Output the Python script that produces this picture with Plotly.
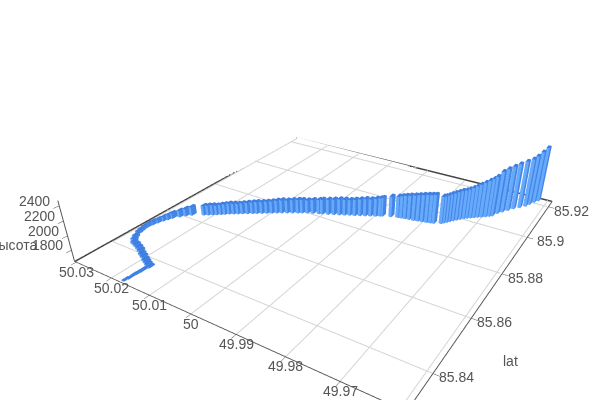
import plotly.graph_objects as go

title_x = "lat"
title_z = "высота"

lat = [85.8301,85.8312,85.8325,85.8337,85.8347,85.8358,85.8371,85.8376,85.8381,85.8386,85.8394,85.8400,85.8409,85.8416,85.8422,85.8427,85.8438,85.8450,85.8469,85.8480,85.8495,85.8510,85.8525,85.8540,85.8556,85.8568,85.8580,85.8597,85.8610,85.8622,
85.8641,85.8648,85.8655,85.8662,85.8669,85.8676,85.8684,85.8691,85.8698,85.8705,85.8713,85.8721,85.8728,85.8736,85.8744,85.8752,85.8760,85.8768,85.8776,85.8784,85.8792,85.8799,85.8806,85.8813,85.8820,85.8824,85.8831,85.8838,85.8845,85.8852,85.8859,85.8865,85.8872,85.8879,85.8886,85.8893,85.8900,85.8903,
85.8913,
85.8920,85.8922,85.8924,85.8926,85.8928,85.8931,85.8934,85.8937,85.8940,85.8943,
85.8953,85.8959,85.8967,85.8975,85.8984,85.8993,85.9002,85.9011,85.9018,85.9025,85.9032,85.9039,85.9046,85.9054,85.9062,85.9069,
85.9090,85.9106,85.9123,85.9141,85.9158,85.9175,85.9192,85.9211,85.9228]
lon = [50.0174,50.0172,50.0172,50.0171,50.0170,50.0170,50.0167,50.0177,50.0185,50.0193,50.0204,50.0214,50.0225,50.0236,50.0248,50.0259,50.0268,50.0274,50.0281,50.0283,50.0285,50.0285,50.0283,50.0280,50.0276,50.0272,50.0268,50.0259,50.0251,50.0242,
50.0220,50.0212,50.0204,50.0197,50.0190,50.0183,50.0176,50.0168,50.0160,50.0152,50.0143,50.0134,50.0126,50.0117,50.0108,50.0099,50.0090,50.0081,50.0071,50.0061,50.0051,50.0043,50.0033,50.0022,50.0010,50.0003,49.9991,49.9980,49.9969,49.9959,49.9949,49.9939,49.9929,49.9919,49.9909,49.9899,49.9891,49.9887,
49.9870,
49.9856,49.9848,49.9840,49.9831,49.9821,49.9812,49.9803,49.9794,49.9786,49.9779,
49.9765,49.9761,49.9757,49.9753,49.9748,49.9743,49.9738,49.9732,49.9727,49.9721,49.9715,49.9709,49.9702,49.9695,49.9689,49.9684,
49.9678,49.9671,49.9663,49.9655,49.9645,49.9636,49.9631,49.9625,49.9619]
alt = [1650,1652,1655,1656,1658,1660,1662,1660,1662,1664,1666,1668,1670,1672,1674,1676,1680,1684,1686,1688,1692,1695,1698,1700,1708,1715,1725,1740,1755,1770,
1785,1790,1792,1786,1795,1800,1804,1802,1798,1806,1812,1816,1820,1818,1822,1826,1835,1840,1838,1844,1847,1844,1840,1850,1858,1864,1870,1877,1884,1881,1878,1887,1894,1902,1900,1910,1917,1922,
1950,
1960,1975,1990,2005,2020,2032,2045,2055,2062,2068,
2045,2045,2048,2055,2060,2066,2072,2072,2080,2095,2115,2135,2160,2185,2205,2230,
2270,2290,2305,2320,2340,2355,2375,2410,2450]

lat_ticks = [85.84,85.86,85.88,85.90,85.92]
lon_ticks = [49.96,49.97,49.98,49.99,50.0,50.01,50.02,50.03]
alt_ticks = [1800,2000,2200,2400]
lat_labels = ["85.84","85.86","85.88","85.9","85.92"]
lon_labels = ["49.96","49.97","49.98","49.99","50","50.01","50.02","50.03"]
alt_labels = ["1800","2000","2200","2400"]

lat_range = [85.8286,85.924]
lon_range = [49.959,50.0305]
alt_range = [1640,2465]
half_lat, half_lon = 0.001, 0.00035
C_A, C_B, C_T = "#66aafc", "#4585e6", "#3f7de0"
TXT = "#555555"
INSET_H, INSET_Z = 0.0001, 0.5

vx,vy,vz,I,J,K,fc = [],[],[],[],[],[],[]
for a,o,h in zip(lat,lon,alt):
    n=len(vx)
    for zz in (alt_range[0]+INSET_Z,h):
        for dx,dy in ((-1,-1),(1,-1),(1,1),(-1,1)):
            vx.append(a+dx*half_lat); vy.append(o+dy*half_lon); vz.append(zz)
    for (p,q,r,col) in [(0,1,5,C_B),(0,5,4,C_B),(3,0,4,C_A),(3,4,7,C_A),(1,2,6,C_A),(1,6,5,C_A),(2,3,7,C_B),(2,7,6,C_B),(4,5,6,C_T),(4,6,7,C_T)]:
        I.append(n+p);J.append(n+q);K.append(n+r);fc.append(col)

fig=go.Figure()
zf=alt_range[0]+INSET_Z
x0,x1=lat_range[0]+INSET_H,lat_range[1]-INSET_H
y0,y1=lon_range[0]+INSET_H,lon_range[1]-INSET_H
gx,gy,gz=[],[],[]
for t in lat_ticks:
    gx+=[t,t,None];gy+=[y0,y1,None];gz+=[zf,zf,None]
for t in lon_ticks:
    if lon_range[0]<t<lon_range[1]:
        gx+=[x0,x1,None];gy+=[t,t,None];gz+=[zf,zf,None]
fig.add_trace(go.Scatter3d(x=gx,y=gy,z=gz,mode="lines",line=dict(color="#d4d4d4",width=2),hoverinfo="skip",showlegend=False))
fig.add_trace(go.Scatter3d(x=[x0,x1,x1],y=[y1,y1,y0],z=[zf]*3,mode="lines",line=dict(color="#444444",width=3),hoverinfo="skip",showlegend=False))
fig.add_trace(go.Mesh3d(x=vx,y=vy,z=vz,i=I,j=J,k=K,facecolor=fc,flatshading=True,
    lighting=dict(ambient=1,diffuse=0,specular=0,roughness=1,fresnel=0),hoverinfo="skip"))

def note(x,y,z,text,dx,dy):
    return dict(x=x,y=y,z=z,text=text,showarrow=False,xshift=dx,yshift=dy,font=dict(family="Liberation Sans",size=14,color=TXT))
notes=[]
for t,s in zip(lat_ticks,lat_labels):
    notes.append(note(t,y0,zf,s,24,-4))
for t,s in zip(lon_ticks,lon_labels):
    if lon_range[0]<t<lon_range[1]:
        notes.append(note(x0,t,zf,s,0,-10))
for t,s in zip(alt_ticks,alt_labels):
    notes.append(note(x0,y1,t,s,-25,5))
notes.append(note(x0,y1,alt_ticks[0],title_z,-58,5))
notes.append(note(85.85,y0,zf,title_x,58,-17))

ax=dict(showgrid=False,showbackground=False,showline=True,linecolor="#555555",linewidth=2,zeroline=False,showspikes=False,ticks="outside",ticklen=5,tickcolor="#555555",showticklabels=False,title=dict(text=""))
fig.update_layout(width=666,height=500,margin=dict(l=0,r=0,t=0,b=0),paper_bgcolor="white",showlegend=False,
    font=dict(family="Liberation Sans",size=12,color=TXT),
    scene=dict(
        xaxis=dict(ax,range=lat_range,tickmode="array",tickvals=lat_ticks),
        yaxis=dict(ax,range=lon_range,tickmode="array",tickvals=[t for t in lon_ticks if t>lon_range[0]]),
        zaxis=dict(ax,range=alt_range,tickmode="array",tickvals=alt_ticks),
        annotations=notes,
        aspectmode="manual",aspectratio=dict(x=1,y=0.96,z=0.178),
        camera=dict(eye=dict(x=-1.248,y=-0.788,z=0.78),center=dict(x=0,y=0,z=-0.16),up=dict(x=-0.0144,y=0.0228,z=1)),
    ))
fig.write_html("out.html",config=dict(displayModeBar=False),post_script="document.documentElement.style.overflow='hidden';document.body.style.overflow='hidden';document.body.style.margin='0';")
